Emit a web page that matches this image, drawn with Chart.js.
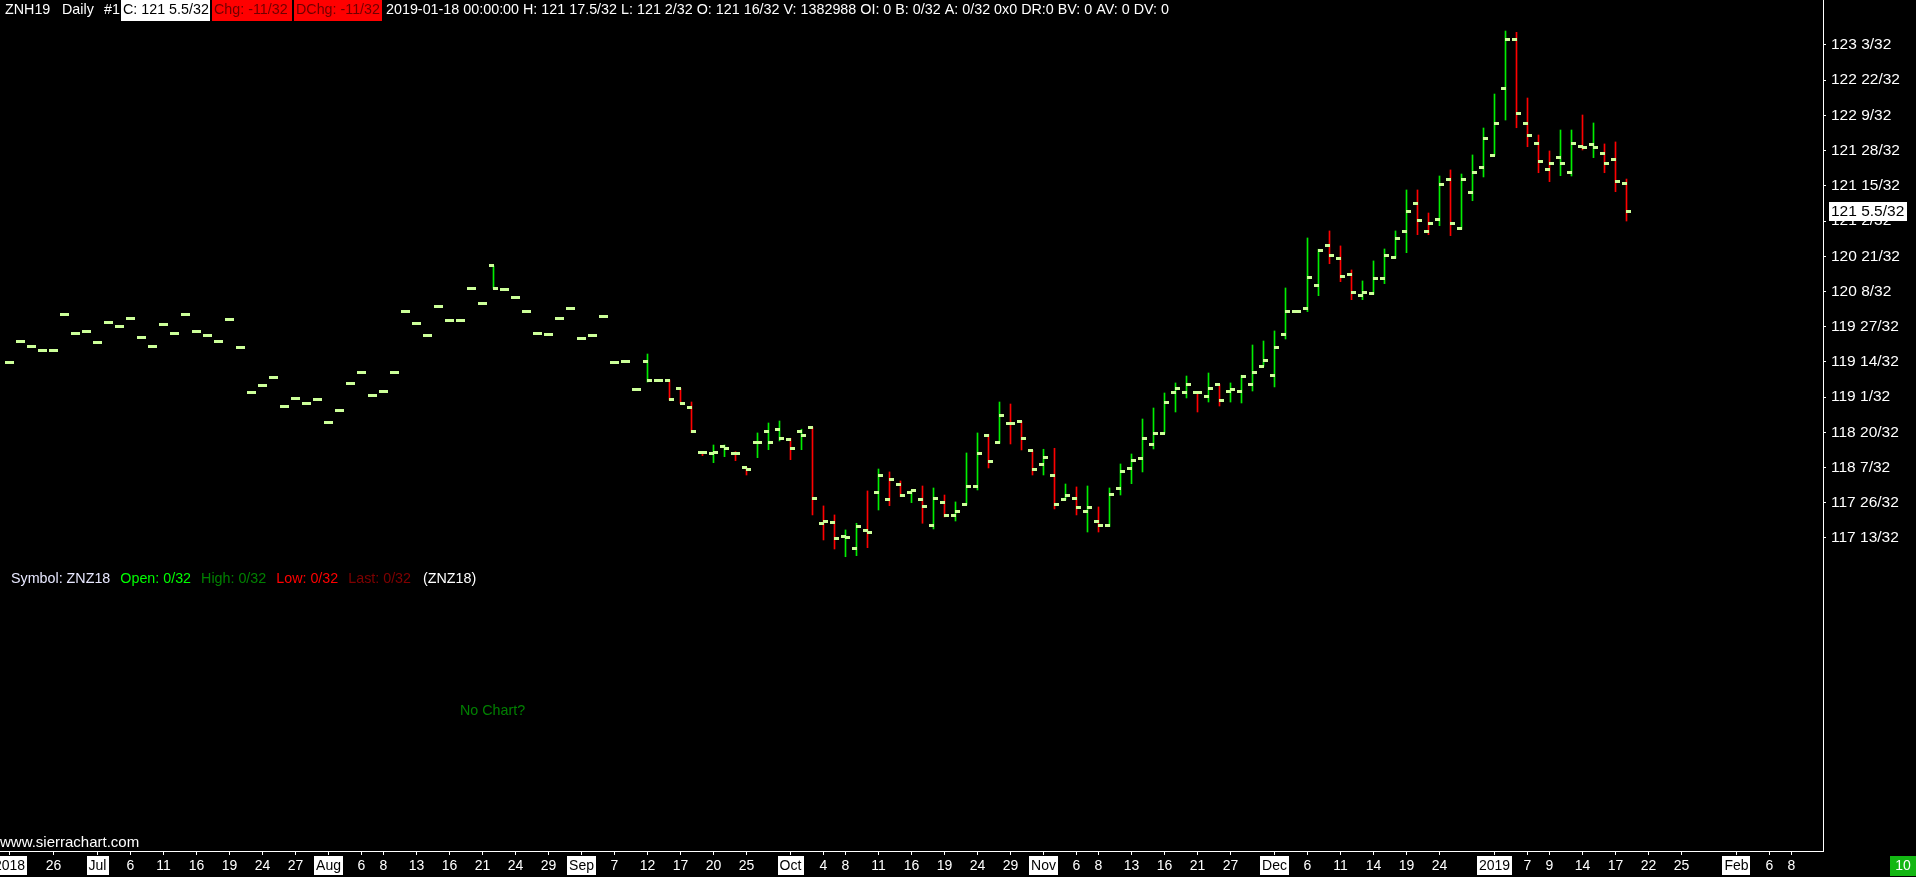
<!DOCTYPE html>
<html>
<head>
<meta charset="utf-8">
<title>ZNH19 Daily</title>
<script src="https://cdn.jsdelivr.net/npm/chart.js@4.4.0/dist/chart.umd.min.js"></script>
<style>
  html, body { margin: 0; padding: 0; background: #000; overflow: hidden; }
  canvas { display: block; }
</style>
</head>
<body>
<canvas id="myChart" width="1916" height="877"></canvas>
<script>
// ZNH19 daily bars, one per trading day from 2018-06-20 to 2019-01-18
var opens = [
  119.433,119.675,119.617,119.571,119.571,119.986,119.767,119.790,119.663,119.894,
  119.848,119.940,119.721,119.617,119.871,119.767,119.986,119.790,119.744,119.675,
  119.929,119.606,119.086,119.167,119.259,118.925,119.017,118.959,119.005,118.740,
  118.878,119.190,119.317,119.052,119.098,119.317,120.021,119.883,119.744,120.079,
  119.917,119.917,120.286,120.113,120.544,120.275,120.182,120.021,119.767,119.755,
  119.940,120.056,119.709,119.744,119.963,119.433,119.444,119.121,119.436,119.217,
  119.217,119.132,118.913,118.394,118.382,118.463,118.382,118.221,118.510,118.636,
  118.660,118.544,118.636,118.683,117.575,117.586,117.425,117.286,117.494,117.933,
  117.852,118.025,117.933,117.852,117.552,117.817,117.667,117.794,118.002,118.590,
  118.510,118.729,118.752,118.417,118.256,118.129,117.852,117.863,117.713,117.598,
  117.552,117.979,118.210,118.325,118.487,118.613,119.086,119.086,119.086,119.040,
  119.178,119.098,119.098,119.178,119.386,119.283,119.756,120.021,120.056,120.321,
  120.783,120.633,120.448,120.206,120.229,120.402,120.644,120.944,121.267,120.944,
  121.083,121.536,120.979,121.394,121.683,121.821,122.594,123.160,122.190,121.960,
  121.660,121.798,121.625,121.925,121.948,121.844,121.775,121.5
];
var highs = [
  119.433,119.675,119.617,119.571,119.571,119.986,119.767,119.790,119.663,119.894,
  119.848,119.940,119.721,119.617,119.871,119.767,119.986,119.790,119.744,119.675,
  119.929,119.606,119.086,119.167,119.259,118.925,119.017,118.959,119.005,118.740,
  118.878,119.190,119.317,119.052,119.098,119.317,120.021,119.883,119.744,120.079,
  119.917,119.917,120.286,120.113,120.544,120.275,120.182,120.021,119.767,119.755,
  119.940,120.056,119.709,119.744,119.963,119.433,119.444,119.121,119.528,119.217,
  119.228,119.132,118.974,118.394,118.478,118.478,118.401,118.221,118.617,118.732,
  118.755,118.556,118.660,118.683,117.775,117.671,117.498,117.575,117.948,118.201,
  118.167,118.063,117.956,118.005,117.982,117.901,117.821,118.386,118.617,118.602,
  118.974,118.951,118.752,118.417,118.429,118.440,118.028,117.994,118.005,117.763,
  117.982,118.259,118.374,118.778,118.905,119.078,119.194,119.274,119.086,119.309,
  119.178,119.194,119.283,119.632,119.678,119.794,120.290,120.021,120.867,120.737,
  120.948,120.775,120.498,120.371,120.602,120.740,120.948,121.421,121.421,121.155,
  121.582,121.652,121.605,121.825,122.136,122.528,123.255,123.240,122.482,122.055,
  121.871,122.113,122.113,122.286,122.194,121.952,121.975,121.546875
];
var lows = [
  119.433,119.675,119.617,119.571,119.571,119.986,119.767,119.790,119.663,119.894,
  119.848,119.940,119.721,119.617,119.871,119.767,119.986,119.790,119.744,119.675,
  119.929,119.606,119.086,119.167,119.259,118.925,119.017,118.959,119.005,118.740,
  118.878,119.190,119.317,119.052,119.098,119.317,120.021,119.883,119.744,120.079,
  119.917,119.917,120.286,120.113,120.286,120.275,120.182,120.021,119.767,119.755,
  119.940,120.056,119.709,119.744,119.963,119.433,119.444,119.121,119.205,119.217,
  118.997,118.959,118.620,118.355,118.274,118.343,118.297,118.132,118.332,118.424,
  118.525,118.309,118.424,117.671,117.382,117.278,117.189,117.201,117.293,117.728,
  117.778,117.882,117.813,117.575,117.509,117.648,117.601,117.786,117.959,118.213,
  118.498,118.490,118.421,118.132,118.132,117.740,117.845,117.671,117.474,117.474,
  117.536,117.901,118.032,118.167,118.432,118.613,118.859,119.021,118.859,118.974,
  118.928,118.974,118.963,119.101,119.386,119.148,119.701,120.021,120.017,120.201,
  120.570,120.363,120.155,120.155,120.217,120.340,120.633,120.697,120.905,120.905,
  121.009,120.894,120.967,121.297,121.571,121.821,122.228,122.139,121.920,121.620,
  121.517,121.586,121.582,121.882,121.794,121.620,121.401,121.0625
];
var closes = [
  119.433,119.675,119.617,119.571,119.571,119.986,119.767,119.790,119.663,119.894,
  119.848,119.940,119.721,119.617,119.871,119.767,119.986,119.790,119.744,119.675,
  119.929,119.606,119.086,119.167,119.259,118.925,119.017,118.959,119.005,118.740,
  118.878,119.190,119.317,119.052,119.098,119.317,120.021,119.883,119.744,120.079,
  119.917,119.917,120.286,120.113,120.286,120.275,120.182,120.021,119.767,119.755,
  119.940,120.056,119.709,119.744,119.963,119.433,119.444,119.121,119.220,119.217,
  119.005,118.959,118.636,118.394,118.394,118.440,118.382,118.198,118.510,118.510,
  118.556,118.440,118.590,117.863,117.598,117.402,117.413,117.540,117.471,118.129,
  118.083,117.898,117.956,117.771,117.863,117.667,117.713,118.002,118.382,118.290,
  118.821,118.729,118.556,118.198,118.337,117.794,117.898,117.759,117.759,117.552,
  117.910,118.175,118.302,118.556,118.613,118.971,119.132,119.178,119.086,119.132,
  118.994,119.121,119.271,119.317,119.455,119.606,120.021,120.021,120.413,120.725,
  120.667,120.425,120.240,120.240,120.402,120.667,120.864,121.175,121.071,121.037,
  121.479,121.037,121.536,121.625,122.017,122.190,123.160,122.306,122.052,121.752,
  121.729,121.729,121.960,121.914,121.914,121.729,121.515625,121.171875
];

// price scale labels (13/32 apart)
var yTickVals = [117.40625,117.8125,118.21875,118.625,119.03125,119.4375,119.84375,
  120.25,120.65625,121.0625,121.46875,121.875,122.28125,122.6875,123.09375];
var yTickLabels = ['117 13/32','117 26/32','118 7/32','118 20/32','119 1/32','119 14/32','119 27/32',
  '120 8/32','120 21/32','121 2/32','121 15/32','121 28/32','122 9/32','122 22/32','123 3/32'];

// date scale: bar index of each label
var xTickIdx = [0,4,8,11,14,17,20,23,26,29,32,34,37,40,43,46,49,52,55,58,61,64,67,
  71,74,76,79,82,85,88,91,94,97,99,102,105,108,111,115,118,121,124,127,130,
  135,138,140,143,146,149,152,157,160,162];
var xTickLabels = ['2018','26','Jul','6','11','16','19','24','27','Aug','6','8','13','16','21','24','29',
  'Sep','7','12','17','20','25','Oct','4','8','11','16','19','24','29','Nov','6','8','13','16','21','27',
  'Dec','6','11','14','19','24','2019','7','9','14','17','22','25','Feb','6','8'];

var lastPrice = '121 5.5/32';
var headerInfo = '2019-01-18 00:00:00 H: 121 17.5/32 L: 121 2/32 O: 121 16/32 V: 1382988 OI: 0 B: 0/32 A: 0/32 0x0 DR:0 BV: 0 AV: 0 DV: 0';

var UP = '#00ee00', DOWN = '#ff0000', TICK = '#ccff99';
var FONT = '"Liberation Sans", Arial, sans-serif';

var barColors = closes.map(function(c, i){
  return (i === 0 || c >= closes[i - 1]) ? UP : DOWN;
});

// open / close tick mark
function tickImage(){
  var c = document.createElement('canvas');
  c.width = 5; c.height = 3;
  var g = c.getContext('2d');
  g.fillStyle = TICK;
  g.fillRect(0, 0, 5, 3);
  return c;
}
var tick = tickImage();
var pxPerBar = 11;
var off = 2 / pxPerBar;

var overlay = {
  id: 'overlay',
  afterDraw: function(chart){
    var ctx = chart.ctx, a = chart.chartArea, xs = chart.scales.x, ys = chart.scales.y;
    ctx.save();
    ctx.strokeStyle = '#fff';
    ctx.lineWidth = 1;
    ctx.beginPath();
    ctx.moveTo(0, a.bottom + 0.5);
    ctx.lineTo(a.right + 1, a.bottom + 0.5);
    ctx.stroke();

    // date labels
    ctx.font = '14px ' + FONT;
    ctx.textBaseline = 'middle';
    ctx.textAlign = 'center';
    xTickIdx.forEach(function(idx, k){
      var px = xs.getPixelForValue(idx);
      ctx.strokeStyle = '#fff';
      ctx.beginPath();
      ctx.moveTo(px, a.bottom);
      ctx.lineTo(px, a.bottom + 4);
      ctx.stroke();
      var t = xTickLabels[k];
      var boxed = isNaN(+t) || +t > 31;
      var w = ctx.measureText(t).width;
      if (boxed) {
        ctx.fillStyle = '#fff';
        ctx.fillRect(Math.round(px - w / 2 - 2), a.bottom + 5, Math.round(w + 4), 19);
        ctx.fillStyle = '#000';
      } else {
        ctx.fillStyle = '#fff';
      }
      ctx.fillText(t, px, a.bottom + 15);
    });

    // green box bottom right
    ctx.fillStyle = '#13b713';
    ctx.fillRect(1890, a.bottom + 5, 26, 20);
    ctx.fillStyle = '#fff';
    ctx.fillText('10', 1903, a.bottom + 15);

    // last price marker
    ctx.font = '15.5px ' + FONT;
    ctx.textAlign = 'left';
    var ly = ys.getPixelForValue(closes[closes.length - 1]);
    var lw = ctx.measureText(lastPrice).width;
    ctx.fillStyle = '#fff';
    ctx.fillRect(a.right + 6, Math.round(ly - 10), Math.round(lw + 5), 19);
    ctx.fillStyle = '#000';
    ctx.fillText(lastPrice, a.right + 8, ly);

    // header line
    ctx.font = '14.3px ' + FONT;
    var hy = 10;
    ctx.fillStyle = '#fff';
    ctx.fillText('ZNH19', 5, hy);
    ctx.fillText('Daily', 62, hy);
    ctx.fillText('#1', 104, hy);
    function box(text, x, w, fg, bg){
      ctx.fillStyle = bg;
      ctx.fillRect(x, 0, w, 21);
      ctx.fillStyle = fg;
      ctx.fillText(text, x + 2, hy);
    }
    box('C: 121 5.5/32', 121, 89, '#000', '#fff');
    box('Chg: -11/32', 212, 80, '#700000', '#ff0000');
    box('DChg: -11/32', 294, 88, '#700000', '#ff0000');
    var iw = ctx.measureText(headerInfo).width;
    ctx.font = (14.3 * 783 / iw).toFixed(2) + 'px ' + FONT;
    ctx.fillStyle = '#fff';
    ctx.fillText(headerInfo, 386, hy);

    // second symbol line
    ctx.font = '14.3px ' + FONT;
    var x = 11;
    var sy = 579;
    function seg2(text, color){
      ctx.fillStyle = color;
      ctx.fillText(text, x, sy);
      x += ctx.measureText(text).width + 10;
    }
    seg2('Symbol: ZNZ18', '#e8e8ff');
    seg2('Open: 0/32', '#00ff00');
    seg2('High: 0/32', '#008000');
    seg2('Low: 0/32', '#ff0000');
    seg2('Last: 0/32', '#800000');
    x += 2;
    seg2('(ZNZ18)', '#fff');

    ctx.fillStyle = '#008000';
    ctx.fillText('No Chart?', 460, 711);

    ctx.font = '15px ' + FONT;
    ctx.fillStyle = '#fff';
    ctx.fillText('www.sierrachart.com', 0, 843);
    ctx.restore();
  }
};

var ctx = document.getElementById('myChart');
var myChart = new Chart(ctx, {
  type: 'bar',
  data: {
    datasets: [
      {
        type: 'bar',
        data: highs.map(function(h, i){ return { x: i, y: [lows[i], h] }; }),
        backgroundColor: barColors,
        borderWidth: 0,
        barThickness: 1,
        order: 2
      },
      {
        type: 'scatter',
        data: opens.map(function(o, i){ return { x: i - off, y: o }; }),
        pointStyle: tick,
        pointRadius: 2,
        order: 1
      },
      {
        type: 'scatter',
        data: closes.map(function(c, i){ return { x: i + off, y: c }; }),
        pointStyle: tick,
        pointRadius: 2,
        order: 1
      }
    ]
  },
  options: {
    responsive: false,
    devicePixelRatio: 1,
    animation: false,
    events: [],
    layout: { autoPadding: false, padding: { left: 0, right: 0, top: 0, bottom: 26 } },
    plugins: { legend: { display: false }, tooltip: { enabled: false } },
    scales: {
      x: {
        type: 'linear',
        display: false,
        offset: false,
        min: -9.5 / pxPerBar,
        max: (1823 - 9.5) / pxPerBar
      },
      y: {
        type: 'linear',
        position: 'right',
        min: 113.793,
        max: 123.613,
        afterFit: function(s){
          s.width = 93;
          s.paddingTop = 0;
          s.paddingBottom = 0;
        },
        afterBuildTicks: function(s){
          s.ticks = yTickVals.map(function(v){ return { value: v }; });
        },
        ticks: {
          autoSkip: false,
          color: '#fff',
          padding: 5,
          font: { family: '"Liberation Sans", Arial, sans-serif', size: 15.5 },
          callback: function(v, i){ return yTickLabels[i]; }
        },
        grid: { drawOnChartArea: false, drawTicks: true, tickLength: 3, color: '#fff' },
        border: { display: true, color: '#fff' }
      }
    }
  },
  plugins: [overlay]
});
</script>
</body>
</html>
